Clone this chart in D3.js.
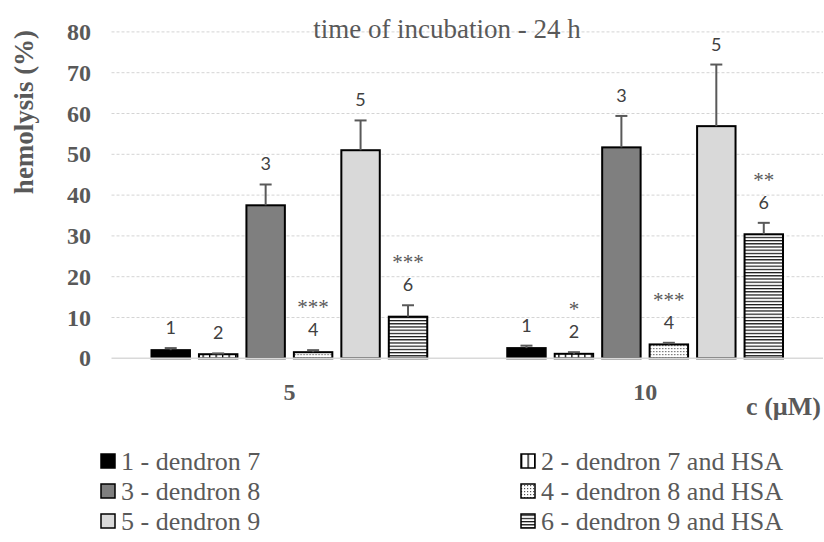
<!DOCTYPE html>
<html>
<head>
<meta charset="utf-8">
<script src="https://cdn.jsdelivr.net/npm/d3@7"></script>
<style>
  body { margin: 0; background: #fff; }
  .serif { font-family: "Liberation Serif", "Times New Roman", serif; }
  .num { font-family: Lato, "Open Sans", sans-serif; font-size: 18px; fill: #404040; }
</style>
</head>
<body>
<div id="chart"></div>
<script>
const concentrations = ["5", "10"];
const seriesIds = ["1", "2", "3", "4", "5", "6"];
const legendLabels = [
    "1 - dendron 7", "2 - dendron 7 and HSA",
    "3 - dendron 8", "4 - dendron 8 and HSA",
    "5 - dendron 9", "6 - dendron 9 and HSA"
];
const mean5 = [2.0, 1.0, 37.5, 1.5, 51.0, 10.2];
const err5 = [0.5, 0.2, 5.1, 0.5, 7.3, 2.8];
const mean10 = [2.5, 1.1, 51.7, 3.4, 56.9, 30.4];
const err10 = [0.6, 0.4, 7.7, 0.4, 15.1, 2.8];
const stars5 = ["", "", "", "***", "", "***"];
const stars10 = ["", "*", "", "***", "", "**"];
const yTicks = [0, 10, 20, 30, 40, 50, 60, 70, 80];

const W = 824, H = 542;
const plot = { left: 111.5, right: 823, top: 31.9, bottom: 358.3 };

const svg = d3.select("#chart").append("svg")
    .attr("width", W).attr("height", H);

// ──── Patterns ────
const defs = svg.append("defs");
const pVert = defs.append("pattern").attr("id", "p2")
    .attr("patternUnits", "userSpaceOnUse").attr("width", 6.5).attr("height", 6);
pVert.append("rect").attr("width", 6.5).attr("height", 6).attr("fill", "#fff");
pVert.append("rect").attr("x", 0).attr("width", 1.3).attr("height", 6).attr("fill", "#000");

const pDot = defs.append("pattern").attr("id", "p4")
    .attr("patternUnits", "userSpaceOnUse").attr("width", 3).attr("height", 3);
pDot.append("rect").attr("width", 3).attr("height", 3).attr("fill", "#fff");
pDot.append("rect").attr("width", 1.2).attr("height", 1.2).attr("fill", "#555");

const pHor = defs.append("pattern").attr("id", "p6")
    .attr("patternUnits", "userSpaceOnUse").attr("width", 6).attr("height", 3.2);
pHor.append("rect").attr("width", 6).attr("height", 3.2).attr("fill", "#fff");
pHor.append("rect").attr("y", 0).attr("width", 6).attr("height", 1.2).attr("fill", "#111");

const fills = ["#000", "url(#p2)", "#7f7f7f", "url(#p4)", "#d9d9d9", "url(#p6)"];

// ──── Scales ────
const x0 = d3.scaleBand().domain(concentrations).range([plot.left, plot.right]).padding(0);
const x1 = d3.scaleBand().domain(seriesIds).range([40, x0.bandwidth() - 40]).paddingInner(0.19);
const y = d3.scaleLinear().domain([0, 80]).range([plot.bottom, plot.top]);

// Grid
svg.append("g").selectAll("line")
    .data(yTicks.filter(t => t > 0))
    .join("line")
    .attr("x1", plot.left).attr("x2", plot.right)
    .attr("y1", d => y(d)).attr("y2", d => y(d))
    .attr("stroke", "#d4d4d4").attr("stroke-width", 1)
    .attr("stroke-dasharray", "3,2");

// Y tick labels
svg.append("g").selectAll("text")
    .data(yTicks)
    .join("text")
    .attr("class", "serif")
    .attr("x", 91).attr("y", d => y(d) + 8)
    .attr("text-anchor", "end")
    .attr("font-size", 24).attr("font-weight", "bold").attr("fill", "#595959")
    .text(d => d);

// Y title
svg.append("text")
    .attr("class", "serif")
    .attr("transform", "translate(33,112) rotate(-90)")
    .attr("text-anchor", "middle")
    .attr("font-size", 27).attr("font-weight", "bold").attr("fill", "#595959")
    .text("hemolysis (%)");

// Title
svg.append("text")
    .attr("class", "serif")
    .attr("x", 447).attr("y", 38)
    .attr("text-anchor", "middle")
    .attr("font-size", 27).attr("fill", "#595959")
    .text("time of incubation - 24 h");

// ──── Bars ────
const groups = [
    { c: "5", mean: mean5, err: err5, stars: stars5 },
    { c: "10", mean: mean10, err: err10, stars: stars10 }
];

groups.forEach(gd => {
    const g = svg.append("g").attr("transform", `translate(${x0(gd.c)},0)`);
    const rows = seriesIds.map((id, i) => ({ id, i, v: gd.mean[i], e: gd.err[i], s: gd.stars[i] }));

    g.selectAll("rect.bar").data(rows).join("rect")
        .attr("class", "bar")
        .attr("x", d => x1(d.id))
        .attr("y", d => y(d.v))
        .attr("width", x1.bandwidth())
        .attr("height", d => y(0) - y(d.v))
        .attr("fill", d => fills[d.i])
        .attr("stroke", "#000").attr("stroke-width", 2);

    const cx = d => x1(d.id) + x1.bandwidth() / 2;
    g.selectAll("line.err").data(rows).join("line")
        .attr("class", "err")
        .attr("x1", cx).attr("x2", cx)
        .attr("y1", d => y(d.v)).attr("y2", d => y(d.v + d.e))
        .attr("stroke", "#595959").attr("stroke-width", 2);
    g.selectAll("line.cap").data(rows).join("line")
        .attr("class", "cap")
        .attr("x1", d => cx(d) - 6).attr("x2", d => cx(d) + 6)
        .attr("y1", d => y(d.v + d.e)).attr("y2", d => y(d.v + d.e))
        .attr("stroke", "#595959").attr("stroke-width", 2);

    g.selectAll("text.num").data(rows).join("text")
        .attr("class", "num")
        .attr("x", cx).attr("y", d => y(d.v + d.e) - 14)
        .attr("text-anchor", "middle")
        .text(d => d.id);

    g.selectAll("text.star").data(rows.filter(d => d.s)).join("text")
        .attr("class", "serif star")
        .attr("x", cx).attr("y", d => y(d.v + d.e) - 36)
        .attr("text-anchor", "middle")
        .attr("font-size", 21).attr("fill", "#595959")
        .text(d => d.s);
});

// Axis line
svg.append("line")
    .attr("x1", plot.left).attr("x2", plot.right)
    .attr("y1", y(0)).attr("y2", y(0))
    .attr("stroke", "#d9d9d9").attr("stroke-width", 1.5);

// X labels
svg.append("g").selectAll("text")
    .data(concentrations)
    .join("text")
    .attr("class", "serif")
    .attr("x", d => x0(d) + x0.bandwidth() / 2).attr("y", 400)
    .attr("text-anchor", "middle")
    .attr("font-size", 24).attr("font-weight", "bold").attr("fill", "#595959")
    .text(d => d);

svg.append("text")
    .attr("class", "serif")
    .attr("x", 821).attr("y", 415)
    .attr("text-anchor", "end")
    .attr("font-size", 26).attr("font-weight", "bold").attr("fill", "#595959")
    .text("c (\u00b5M)");

// ──── Legend ────
const rowY = [461, 491, 521];
const colX = [101, 521];
const legend = svg.append("g").selectAll("g")
    .data(seriesIds)
    .join("g")
    .attr("transform", (d, i) => `translate(${colX[i % 2]},${rowY[Math.floor(i / 2)]})`);

legend.append("rect")
    .attr("x", 0).attr("y", -7)
    .attr("width", 14).attr("height", 14)
    .attr("fill", (d, i) => fills[i])
    .attr("stroke", "#000").attr("stroke-width", 1.5);

legend.append("text")
    .attr("class", "serif")
    .attr("x", 20).attr("y", 8.5)
    .attr("font-size", 26).attr("fill", "#595959")
    .text((d, i) => legendLabels[i]);
</script>
</body>
</html>
